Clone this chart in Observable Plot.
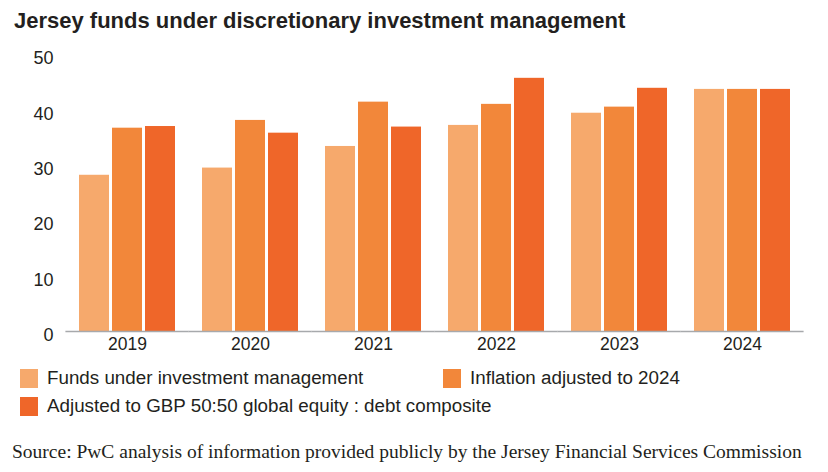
<!DOCTYPE html>
<html>
<head>
<meta charset="utf-8">
<script src="https://cdn.jsdelivr.net/npm/d3@7"></script>
<script src="https://cdn.jsdelivr.net/npm/@observablehq/plot@0.6"></script>
<style>
  html, body { margin: 0; padding: 0; background: #fff; }
  body { width: 828px; height: 472px; overflow: hidden; font-family: "Liberation Sans", Arial, sans-serif; color: #231f20; }
  #title { height: 42px; line-height: 42px; padding-left: 14px; font-weight: bold; font-size: 22px; white-space: nowrap; }
  #chart { height: 314px; }
  #legend { position: relative; height: 64px; font-size: 18.8px; }
  .item { position: absolute; display: flex; align-items: center; white-space: nowrap; }
  .sw { width: 18px; height: 19px; margin-right: 9px; }
  #source { font-family: "Liberation Serif", "DejaVu Serif", serif; font-size: 19.5px; padding-left: 12px; margin-top: 21px; white-space: nowrap; color: #231f20; }
</style>
</head>
<body>
<div id="title">Jersey funds under discretionary investment management</div>
<div id="chart"></div>
<div id="legend"></div>
<div id="source">Source: PwC analysis of information provided publicly by the Jersey Financial Services Commission</div>
<script>
const years = ["2019", "2020", "2021", "2022", "2023", "2024"];
const seriesNames = [
  "Funds under investment management",
  "Inflation adjusted to 2024",
  "Adjusted to GBP 50:50 global equity : debt composite"
];
const funds = [28.2, 29.5, 33.4, 37.2, 39.4, 43.7];
const inflationAdjusted = [36.7, 38.1, 41.4, 41.0, 40.5, 43.7];
const gbpAdjusted = [37.0, 35.8, 36.9, 45.7, 43.9, 43.7];
const yTicks = [0, 10, 20, 30, 40, 50];
const colors = ["#f6a96c", "#f2873a", "#ef6629"];

const seriesValues = [funds, inflationAdjusted, gbpAdjusted];
const data = [];
years.forEach((y, i) => {
  seriesNames.forEach((s, j) => data.push({year: y, series: s, value: seriesValues[j][i]}));
});

const chart = Plot.plot({
  width: 828,
  height: 314,
  marginTop: 12,
  marginLeft: 65,
  marginRight: 24,
  marginBottom: 25,
  style: {fontFamily: "Liberation Sans, Arial, sans-serif", color: "#231f20", background: "#fff"},
  fx: {domain: years, paddingInner: 0.22, paddingOuter: 0.11, label: null},
  x: {domain: seriesNames, paddingInner: 0.1, paddingOuter: 0, axis: null},
  y: {domain: [0, 50], label: null},
  color: {domain: seriesNames, range: colors},
  marks: [
    Plot.axisY({anchor: "left", ticks: yTicks, tickSize: 0, tickPadding: 26, fontSize: 18, dy: 4, label: null, fill: "#231f20"}),
    Plot.axisFx({anchor: "bottom", tickSize: 0, tickPadding: 6, fontSize: 17.5, label: null, fill: "#231f20"}),
    Plot.barY(data, {fx: "year", x: "series", y: "value", fill: "series"}),
    Plot.ruleY([0], {stroke: "#a7a9ac", strokeWidth: 1.5, insetLeft: -13.6, insetRight: -13.6}),
  ]
});
document.getElementById("chart").appendChild(chart);

const legend = document.getElementById("legend");
const positions = [[20, 22], [443, 22], [20, 50]];
seriesNames.forEach((s, i) => {
  const item = document.createElement("div");
  item.className = "item";
  item.style.left = positions[i][0] + "px";
  item.style.top = (positions[i][1] - 12) + "px";
  item.style.height = "24px";
  const sw = document.createElement("div");
  sw.className = "sw";
  sw.style.background = colors[i];
  const tx = document.createElement("span");
  tx.textContent = s;
  item.appendChild(sw);
  item.appendChild(tx);
  legend.appendChild(item);
});
</script>
</body>
</html>
